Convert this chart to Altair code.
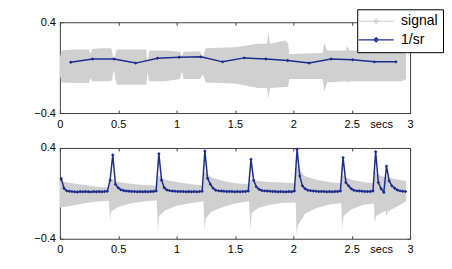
import altair as alt
import pandas as pd

FONT = "Liberation Sans"
BLUE = "#1c2d8e"
GRAY = "#d0d0d0"
BOX = "#404040"

x_ticks = [0, 0.5, 1, 1.5, 2, 2.5, 3]
y_ticks = [-0.4, 0.4]
series = ["signal", "1/sr"]

# ---- top panel: signal envelope (time, upper, lower) ----
sig1_t = [0.000, 0.015, 0.120, 0.250, 0.262, 0.275, 0.350, 0.440, 0.455, 0.465,
          0.475, 0.490, 0.600, 0.740, 0.750, 0.765, 0.900, 1.030, 1.045, 1.060,
          1.200, 1.225, 1.250, 1.500, 1.700, 1.775, 1.785, 1.800, 1.930, 1.955,
          1.965, 2.250, 2.265, 2.290, 2.450, 2.460, 2.480, 2.930, 2.966]
sig1_hi = [0.09, 0.15, 0.16, 0.16, 0.12, 0.165, 0.17, 0.17, 0.10, 0.06,
           0.12, 0.16, 0.16, 0.16, 0.05, 0.15, 0.15, 0.14, 0.10, 0.14,
           0.145, 0.09, 0.17, 0.18, 0.21, 0.21, 0.31, 0.21, 0.24, 0.21,
           0.12, 0.13, 0.22, 0.15, 0.15, 0.19, 0.15, 0.14, 0.12]
sig1_lo = [-0.07, -0.13, -0.135, -0.135, -0.09, -0.12, -0.12, -0.12, -0.06, -0.02,
           -0.10, -0.15, -0.15, -0.15, -0.04, -0.12, -0.12, -0.10, -0.03, -0.10,
           -0.10, -0.06, -0.13, -0.14, -0.18, -0.18, -0.28, -0.18, -0.17, -0.17,
           -0.10, -0.10, -0.21, -0.13, -0.12, -0.13, -0.12, -0.12, -0.10]

# ---- top panel: 1/sr ----
sr_t = [0.093, 0.279, 0.464, 0.650, 0.836, 1.022, 1.208, 1.393,
        1.579, 1.765, 1.951, 2.136, 2.322, 2.508, 2.694, 2.879]
sr_v = [0.048, 0.077, 0.077, 0.040, 0.083, 0.092, 0.095, 0.051,
        0.086, 0.077, 0.063, 0.040, 0.077, 0.069, 0.051, 0.051]

# ---- bottom panel: signal envelope ----
sig2_t = [0.000, 0.100, 0.200, 0.300, 0.420, 0.430, 0.440, 0.500, 0.600, 0.700,
          0.830, 0.840, 0.850, 0.900, 1.000, 1.100, 1.230, 1.240, 1.250, 1.300,
          1.400, 1.500, 1.620, 1.632, 1.645, 1.700, 1.800, 1.900, 2.020, 2.028,
          2.040, 2.100, 2.200, 2.300, 2.410, 2.418, 2.430, 2.500, 2.600, 2.690,
          2.697, 2.710, 2.790, 2.797, 2.810, 2.900, 2.966]
sig2_hi = [0.11, 0.09, 0.075, 0.06, 0.05, 0.11, 0.13, 0.10, 0.085, 0.075,
           0.065, 0.15, 0.15, 0.12, 0.10, 0.085, 0.07, 0.20, 0.18, 0.14,
           0.11, 0.09, 0.08, 0.12, 0.12, 0.11, 0.10, 0.095, 0.09, 0.285,
           0.22, 0.15, 0.12, 0.10, 0.09, 0.17, 0.15, 0.12, 0.10, 0.09,
           0.20, 0.17, 0.14, 0.15, 0.14, 0.12, 0.11]
sig2_lo = [-0.125, -0.11, -0.09, -0.075, -0.066, -0.24, -0.16, -0.12, -0.09, -0.075,
           -0.06, -0.345, -0.20, -0.15, -0.11, -0.09, -0.07, -0.33, -0.22, -0.16,
           -0.12, -0.09, -0.07, -0.315, -0.17, -0.13, -0.10, -0.085, -0.08, -0.365,
           -0.28, -0.18, -0.13, -0.10, -0.085, -0.315, -0.20, -0.14, -0.10, -0.09,
           -0.257, -0.20, -0.15, -0.20, -0.16, -0.11, -0.07]

# ---- bottom panel: 1/sr per frame ----
frame_t = [0.012, 0.035, 0.058, 0.081, 0.104, 0.128, 0.151, 0.174,
           0.197, 0.221, 0.244, 0.267, 0.290, 0.313, 0.337, 0.360,
           0.383, 0.406, 0.430, 0.453, 0.476, 0.499, 0.522, 0.546,
           0.569, 0.592, 0.615, 0.639, 0.662, 0.685, 0.708, 0.731,
           0.755, 0.778, 0.801, 0.824, 0.848, 0.871, 0.894, 0.917,
           0.940, 0.964, 0.987, 1.010, 1.033, 1.056, 1.080, 1.103,
           1.126, 1.149, 1.173, 1.196, 1.219, 1.242, 1.265, 1.289,
           1.312, 1.335, 1.358, 1.382, 1.405, 1.428, 1.451, 1.474,
           1.498, 1.521, 1.544, 1.567, 1.591, 1.614, 1.637, 1.660,
           1.683, 1.707, 1.730, 1.753, 1.776, 1.800, 1.823, 1.846,
           1.869, 1.892, 1.916, 1.939, 1.962, 1.985, 2.009, 2.032,
           2.055, 2.078, 2.101, 2.125, 2.148, 2.171, 2.194, 2.218,
           2.241, 2.264, 2.287, 2.310, 2.334, 2.357, 2.380, 2.403,
           2.426, 2.450, 2.473, 2.496, 2.519, 2.543, 2.566, 2.589,
           2.612, 2.635, 2.659, 2.682, 2.705, 2.728, 2.752, 2.775,
           2.798, 2.821, 2.844, 2.868, 2.891, 2.914, 2.937, 2.961]
frame_v = [0.130, 0.045, 0.022, 0.018, 0.016, 0.015, 0.012, 0.016,
           0.014, 0.017, 0.015, 0.013, 0.016, 0.015, 0.017, 0.014,
           0.016, 0.018, 0.116, 0.338, 0.080, 0.050, 0.032, 0.025,
           0.020, 0.018, 0.016, 0.017, 0.015, 0.016, 0.014, 0.016,
           0.015, 0.017, 0.016, 0.020, 0.350, 0.116, 0.050, 0.030,
           0.024, 0.020, 0.018, 0.017, 0.016, 0.016, 0.015, 0.016,
           0.014, 0.016, 0.015, 0.016, 0.018, 0.374, 0.134, 0.080,
           0.046, 0.028, 0.022, 0.020, 0.018, 0.017, 0.016, 0.016,
           0.015, 0.016, 0.015, 0.016, 0.017, 0.020, 0.300, 0.116,
           0.057, 0.035, 0.026, 0.022, 0.020, 0.018, 0.017, 0.016,
           0.015, 0.016, 0.015, 0.014, 0.016, 0.015, 0.020, 0.388,
           0.154, 0.066, 0.040, 0.028, 0.024, 0.020, 0.018, 0.017,
           0.016, 0.016, 0.015, 0.016, 0.015, 0.016, 0.017, 0.020,
           0.315, 0.095, 0.066, 0.040, 0.028, 0.022, 0.020, 0.018,
           0.017, 0.016, 0.016, 0.020, 0.367, 0.095, 0.040, 0.010,
           0.240, 0.110, 0.066, 0.045, 0.030, 0.022, 0.018, 0.016]

W, H = 351, 91


def panel(sig_t, sig_hi, sig_lo, ln_t, ln_v, legend):
    sig_df = pd.DataFrame({"t": sig_t, "hi": sig_hi, "lo": sig_lo})
    ln_df = pd.DataFrame({"t": ln_t, "v": ln_v, "series": "1/sr"})
    xs = alt.Scale(domain=[0, 3], nice=False, zero=False)
    ys = alt.Scale(domain=[-0.4, 0.4], nice=False, zero=False)

    ax_bottom = alt.Axis(orient="bottom", values=x_ticks, format="~g", offset=-3,
                         tickSize=3, domain=False, grid=False, labelPadding=5,
                         labelFlush=False, title="secs", titleX=322, titleY=8,
                         titleBaseline="top", titleAlign="center",
                         titleFontWeight="normal", titleFontSize=11,
                         titleFont=FONT, titleColor="black")
    ax_left = alt.Axis(orient="left", values=y_ticks, format="~g", offset=-3,
                       tickSize=3, domain=False, grid=False, labelPadding=4.5,
                       labelFlush=False, title=None)
    ax_top = alt.Axis(orient="top", values=x_ticks, offset=-3, tickSize=3,
                      domain=False, grid=False, labels=False, title=None)
    ax_right = alt.Axis(orient="right", values=y_ticks, offset=-3, tickSize=3,
                        domain=False, grid=False, labels=False, title=None)

    area = alt.Chart(sig_df).mark_area(color=GRAY, opacity=1).encode(
        x=alt.X("t:Q", scale=xs, axis=ax_bottom),
        y=alt.Y("hi:Q", scale=ys, axis=ax_left),
        y2="lo:Q",
    )
    if legend:
        col = alt.Color("series:N",
                        scale=alt.Scale(domain=series, range=[GRAY, BLUE]),
                        legend=alt.Legend(
                            title=None, orient="none", legendX=298, legendY=-13,
                            direction="vertical", fillColor="white",
                            strokeColor="black", padding=5, cornerRadius=0,
                            labelFont=FONT, labelFontSize=14, labelColor="black",
                            symbolType="M-5,0H5M0,-0.6L0.6,0L0,0.6L-0.6,0Z",
                            symbolSize=49, symbolOffset=7, labelOffset=18,
                            rowPadding=4.6, symbolStrokeWidth=1.2))
    else:
        col = alt.value(BLUE)
    line = alt.Chart(ln_df).mark_line(strokeWidth=1.5).encode(
        x=alt.X("t:Q", scale=xs, axis=ax_top),
        y=alt.Y("v:Q", scale=ys, axis=ax_right),
        color=col,
    )
    pts = alt.Chart(ln_df).mark_point(shape="diamond", filled=True, size=12,
                                      color=BLUE, opacity=1).encode(
        x=alt.X("t:Q", scale=xs, axis=None),
        y=alt.Y("v:Q", scale=ys, axis=None),
    )
    return alt.layer(area, line, pts).resolve_axis(
        x="independent", y="independent").properties(width=W, height=H)


top = panel(sig1_t, sig1_hi, sig1_lo, sr_t, sr_v, True)
bottom = panel(sig2_t, sig2_hi, sig2_lo, frame_t, frame_v, False)

chart = alt.vconcat(top, bottom, spacing=35, bounds="flush").properties(
    padding={"left": 25, "top": 0, "right": 0, "bottom": 0}
).configure_view(stroke=BOX, strokeWidth=1).configure_axis(
    tickColor=BOX, tickWidth=1, labelFont=FONT, labelFontSize=11,
    labelColor="black"
)

chart.save("out.html", embed_options={"renderer": "svg", "actions": False})
